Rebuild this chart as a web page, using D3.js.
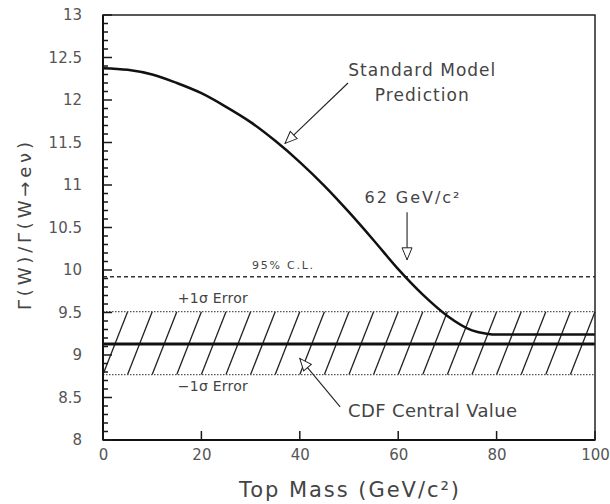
<!DOCTYPE html>
<html>
<head>
<meta charset="utf-8">
<script src="https://cdn.jsdelivr.net/npm/d3@7"></script>
<style>
  body { margin: 0; background: #fff; }
  svg text { font-family: "DejaVu Sans", sans-serif; fill: #444; }
</style>
</head>
<body>
<svg width="610" height="504"></svg>
<script>
// Standard Model prediction
var smTopMass = [0, 5, 10, 15, 20, 25, 30, 35, 40, 45, 50, 55, 60, 65, 70, 75, 78, 80, 90, 100];
var smRatio = [12.375, 12.355, 12.30, 12.20, 12.08, 11.92, 11.74, 11.52, 11.27, 10.99, 10.68, 10.35, 10.01, 9.71, 9.46, 9.29, 9.25, 9.24, 9.24, 9.24];

// CDF measurement and limits
var cdfCentral = 9.13;
var cdfPlus = 9.51;
var cdfMinus = 8.77;
var cl95 = 9.92;
var hatchStarts = d3.range(0, 100, 5);

var xTicks = [0, 20, 40, 60, 80, 100];
var yTicks = [8, 8.5, 9, 9.5, 10, 10.5, 11, 11.5, 12, 12.5, 13];
var yMinor = d3.range(80, 131).map(function (d) { return d / 10; });

var svg = d3.select('svg');
var margin = { top: 15, right: 15, bottom: 64, left: 103 };
var w = 610 - margin.left - margin.right;
var h = 504 - margin.top - margin.bottom;

var g = svg.append('g')
    .attr('transform', 'translate(' + margin.left + ',' + margin.top + ')');

var x = d3.scaleLinear().domain([0, 100]).range([0, w]);
var y = d3.scaleLinear().domain([8, 13]).range([h, 0]);

var defs = svg.append('defs');
defs.append('marker')
    .attr('id', 'open')
    .attr('viewBox', '0 0 14 12')
    .attr('refX', 13)
    .attr('refY', 6)
    .attr('markerWidth', 14)
    .attr('markerHeight', 12)
    .attr('markerUnits', 'userSpaceOnUse')
    .attr('orient', 'auto')
    .append('path')
    .attr('d', 'M1,1 L13,6 L1,11 Z')
    .attr('fill', '#fff')
    .attr('stroke', '#222')
    .attr('stroke-width', 1);

// hatched error band
g.selectAll('.hatch')
    .data(hatchStarts)
    .enter()
    .append('line')
    .attr('class', 'hatch')
    .attr('x1', function (d) { return x(d); })
    .attr('y1', y(cdfMinus))
    .attr('x2', function (d) { return x(d + 5); })
    .attr('y2', y(cdfPlus))
    .attr('stroke', '#222')
    .attr('stroke-width', 1.3);

[cdfPlus, cdfMinus].forEach(function (v) {
    g.append('line')
        .attr('x1', 0).attr('x2', w)
        .attr('y1', y(v)).attr('y2', y(v))
        .attr('stroke', '#555')
        .attr('stroke-width', 1.2)
        .attr('stroke-dasharray', '1.5,1.5');
});

// 95% CL
g.append('line')
    .attr('x1', 0).attr('x2', w)
    .attr('y1', y(cl95)).attr('y2', y(cl95))
    .attr('stroke', '#333')
    .attr('stroke-width', 1.5)
    .attr('stroke-dasharray', '4,3');

// CDF central value
g.append('line')
    .attr('x1', 0).attr('x2', w)
    .attr('y1', y(cdfCentral)).attr('y2', y(cdfCentral))
    .attr('stroke', '#111')
    .attr('stroke-width', 3);

// SM curve
var smLine = d3.line()
    .x(function (d, i) { return x(smTopMass[i]); })
    .y(function (d) { return y(d); })
    .curve(d3.curveMonotoneX);

g.append('path')
    .datum(smRatio)
    .attr('d', smLine)
    .attr('fill', 'none')
    .attr('stroke', '#111')
    .attr('stroke-width', 2.5);

// tick labels
g.append('g')
    .call(d3.axisLeft(y).tickValues(yTicks).tickSize(0).tickPadding(21)
        .tickFormat(function (d) { return d; }))
    .call(function (s) { s.select('.domain').remove(); })
    .selectAll('text')
    .style('font-size', '15px')
    .style('fill', '#555');

g.append('g')
    .attr('transform', 'translate(0,' + h + ')')
    .call(d3.axisBottom(x).tickValues(xTicks).tickSize(0).tickPadding(9)
        .tickFormat(function (d) { return d; }))
    .call(function (s) { s.select('.domain').remove(); })
    .selectAll('text')
    .style('font-size', '15px')
    .style('fill', '#555');

// frame
g.append('rect')
    .attr('width', w).attr('height', h)
    .attr('fill', 'none')
    .attr('stroke', '#222')
    .attr('stroke-width', 1.5);
g.append('line')
    .attr('x1', 0).attr('x2', w).attr('y1', h).attr('y2', h)
    .attr('stroke', '#111').attr('stroke-width', 2.2);
g.append('line')
    .attr('x1', 0).attr('x2', 0).attr('y1', 0).attr('y2', h)
    .attr('stroke', '#111').attr('stroke-width', 2);

// inward ticks as one path: left major every 0.5, minor every 0.1; bottom every 20
var tickPath = d3.path();
yMinor.forEach(function (d) {
    var len = Math.abs(d * 2 - Math.round(d * 2)) < 1e-6 ? 9 : 5;
    tickPath.moveTo(0, y(d));
    tickPath.lineTo(len, y(d));
});
xTicks.forEach(function (d) {
    tickPath.moveTo(x(d), h);
    tickPath.lineTo(x(d), h - 9);
});
g.append('path')
    .attr('d', tickPath.toString())
    .attr('fill', 'none')
    .attr('stroke', '#1a1a1a')
    .attr('stroke-width', 1.5);

// axis titles
svg.append('text')
    .attr('x', margin.left + x(50))
    .attr('y', 497)
    .attr('text-anchor', 'middle')
    .attr('textLength', 220)
    .style('font-size', '21px')
    .text('Top Mass (GeV/c²)');

svg.append('text')
    .attr('transform', 'translate(31,226) rotate(-90)')
    .attr('text-anchor', 'middle')
    .attr('textLength', 168)
    .style('font-size', '18px')
    .text('Γ(W)/Γ(W→eν)');

// annotations
function label(txt, mx, vy, size, len, anchor) {
    g.append('text')
        .attr('x', x(mx))
        .attr('y', y(vy))
        .attr('dy', '0.35em')
        .attr('text-anchor', anchor || 'start')
        .attr('textLength', len)
        .style('font-size', size + 'px')
        .text(txt);
}
function arrow(m1, v1, m2, v2) {
    g.append('line')
        .attr('x1', x(m1)).attr('y1', y(v1))
        .attr('x2', x(m2)).attr('y2', y(v2))
        .attr('stroke', '#222')
        .attr('stroke-width', 1.1)
        .attr('marker-end', 'url(#open)');
}

label('Standard Model', 64.8, 12.35, 17, 147, 'middle');
label('Prediction', 64.8, 12.06, 17, 94, 'middle');
arrow(49.8, 12.2, 37.0, 11.49);

label('62 GeV/c²', 62.8, 10.86, 16, 95, 'middle');
arrow(61.8, 10.68, 61.8, 10.12);

label('95% C.L.', 30.3, 10.06, 11, 61, 'start');
label('+1σ Error', 15.2, 9.67, 14, 70, 'start');
label('−1σ Error', 15.2, 8.64, 14, 70, 'start');

label('CDF Central Value', 49.8, 8.35, 18, 169, 'start');
arrow(48.2, 8.39, 40.0, 8.96);
</script>
</body>
</html>
